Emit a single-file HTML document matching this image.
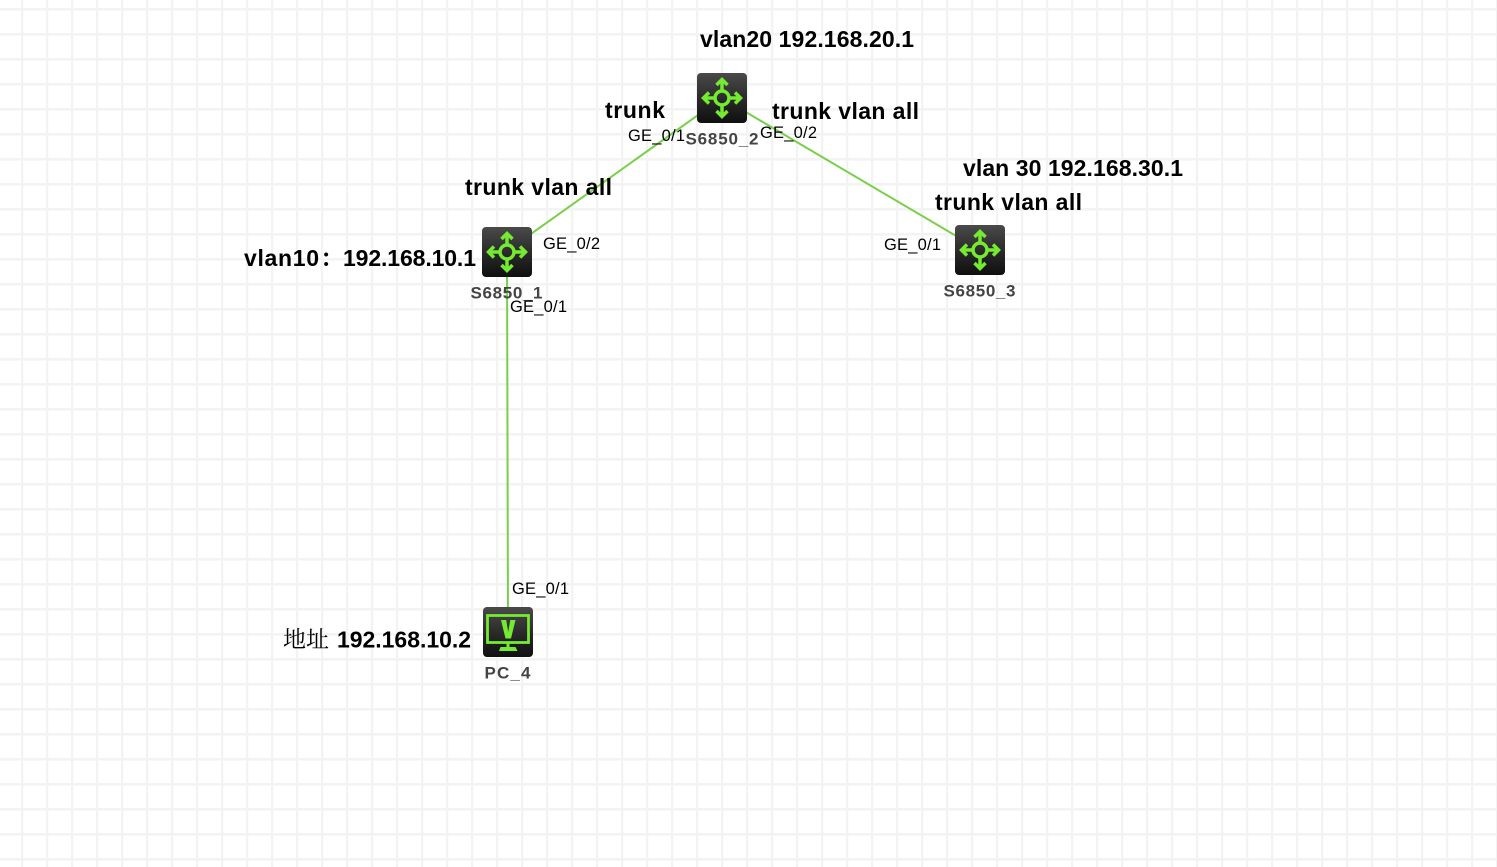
<!DOCTYPE html>
<html>
<head>
<meta charset="utf-8">
<style>
html,body{margin:0;padding:0;background:#fff;}
svg{display:block;}
.t{font-family:"Liberation Sans",sans-serif;font-size:23px;font-weight:bold;fill:#000;}
.c{font-family:"Noto Serif CJK SC","Noto Sans CJK SC",serif;font-size:23px;font-weight:normal;fill:#000;}
.p{font-family:"Liberation Sans",sans-serif;font-size:16.5px;fill:#000;}
.n{font-family:"Liberation Sans",sans-serif;font-size:17px;font-weight:bold;fill:#444;text-anchor:middle;}
</style>
</head>
<body>
<svg width="1497" height="867" viewBox="0 0 1497 867" xmlns="http://www.w3.org/2000/svg">
<defs>
<pattern id="g" width="25" height="25" patternUnits="userSpaceOnUse">
<rect x="21" y="0" width="2.2" height="25" fill="#f3f3f3"/>
<rect x="0" y="8" width="25" height="2.6" fill="#f3f3f3"/>
</pattern>
<linearGradient id="b" x1="0" y1="0" x2="0" y2="1">
<stop offset="0" stop-color="#4a4a4a"/><stop offset=".5" stop-color="#2b2b2b"/><stop offset="1" stop-color="#0f0f0f"/>
</linearGradient>
<g id="sw">
<rect x="0" y="0" width="50" height="50" rx="4" fill="url(#b)"/>
<g fill="none" stroke="#74ea30" stroke-width="3.500">
<circle cx="25" cy="25" r="7"/>
<path d="M25 18V8M25 32V42M18 25H8M32 25H42"/>
<path d="M19.500 12L25 6.500L30.500 12M19.500 38L25 43.500L30.500 38M12 19.500L6.500 25L12 30.500M38 19.500L43.500 25L38 30.500"/>
</g>
</g>
</defs>
<rect width="1497" height="867" fill="#fff"/>
<rect width="1497" height="867" fill="url(#g)"/>

<g stroke="#78cf48" stroke-width="2" fill="none">
<line x1="507" y1="251" x2="722" y2="98"/>
<line x1="722" y1="98" x2="980" y2="250"/>
<line x1="507" y1="251" x2="508" y2="632"/>
</g>

<use href="#sw" x="697" y="73"/>
<use href="#sw" x="482" y="227"/>
<use href="#sw" x="955" y="225"/>

<g transform="translate(483,607)">
<rect x="0" y="0" width="50" height="50" rx="4" fill="url(#b)"/>
<rect x="4.500" y="8.500" width="41" height="27" fill="none" stroke="#74ea30" stroke-width="2.800"/>
<path d="M18 13H23.200L25.200 25L27.300 13H32.500L28 31.500H22.500Z" fill="#74ea30"/>
<rect x="23.500" y="35" width="3" height="5" fill="#74ea30"/>
<path d="M16 44L17.500 40H32.500L34.500 44Z" fill="#74ea30"/>
</g>

<text class="n" x="722" y="144.500" textLength="73">S6850_2</text>
<text class="n" x="506.500" y="298.500" textLength="72">S6850_1</text>
<text class="n" x="979.500" y="296.500" textLength="72">S6850_3</text>
<text class="n" x="507.500" y="678.500" textLength="46">PC_4</text>

<text class="t" x="700" y="47" textLength="214">vlan20 192.168.20.1</text>
<text class="t" x="605" y="118" textLength="60">trunk</text>
<text class="t" x="772" y="119" textLength="147">trunk vlan all</text>
<text class="t" x="963" y="176" textLength="220">vlan 30 192.168.30.1</text>
<text class="t" x="935" y="210" textLength="147">trunk vlan all</text>
<text class="t" x="465" y="195" textLength="147">trunk vlan all</text>
<text class="t" x="244" y="266" textLength="75">vlan10</text>
<text class="c" x="320" y="266" style="font-weight:bold">：</text>
<text class="t" x="343" y="266" textLength="133">192.168.10.1</text>
<text class="c" x="283" y="647">地址</text>
<text class="t" x="337" y="647.500" textLength="134">192.168.10.2</text>

<text class="p" x="628" y="141" textLength="57">GE_0/1</text>
<text class="p" x="760" y="138" textLength="57">GE_0/2</text>
<text class="p" x="543" y="249" textLength="57">GE_0/2</text>
<text class="p" x="884" y="250" textLength="57">GE_0/1</text>
<text class="p" x="510" y="312" textLength="57">GE_0/1</text>
<text class="p" x="512" y="594" textLength="57">GE_0/1</text>
</svg>
</body>
</html>
